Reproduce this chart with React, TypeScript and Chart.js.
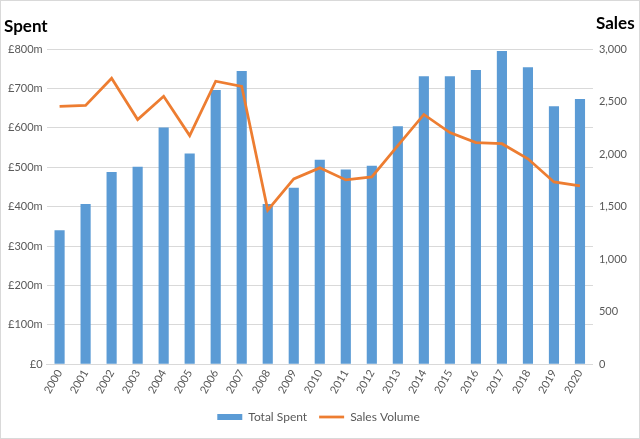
import React, { useEffect, useRef } from "react";
import { Chart, registerables } from "chart.js";

Chart.register(...registerables);

const years = ["2000","2001","2002","2003","2004","2005","2006","2007","2008","2009","2010","2011","2012","2013","2014","2015","2016","2017","2018","2019","2020"];
const totalSpent = [340, 407, 488, 501, 601, 535, 696, 744, 407, 448, 519, 494, 504, 604, 731, 731, 747, 795, 754, 655, 673];
const salesVolume = [2454, 2463, 2722, 2329, 2550, 2176, 2693, 2645, 1467, 1764, 1869, 1754, 1783, 2080, 2377, 2205, 2109, 2099, 1955, 1735, 1697];
const leftTitle = "Spent";
const rightTitle = "Sales";

const FONT = "Lato, 'Open Sans', sans-serif";

const titlePlugin = {
  id: "axisTitles",
  afterDraw(chart: any) {
    const ctx = chart.ctx;
    ctx.save();
    ctx.font = `bold 17px ${FONT}`;
    ctx.fillStyle = "#000";
    ctx.textBaseline = "middle";
    ctx.textAlign = "left";
    ctx.fillText(leftTitle, 3, 26);
    ctx.fillText(rightTitle, chart.scales.y1.left + 3, 23);
    ctx.restore();
  },
};

export default function App() {
  const ref = useRef<HTMLCanvasElement>(null);
  useEffect(() => {
    if (!ref.current) return;
    const chart = new Chart(ref.current, {
      type: "bar",
      data: {
        labels: years,
        datasets: [
          {
            type: "line",
            label: "Sales Volume",
            data: salesVolume,
            borderColor: "#ED7D31",
            backgroundColor: "#ED7D31",
            borderWidth: 2.75,
            pointRadius: 0,
            pointStyle: "line",
            tension: 0,
            yAxisID: "y1",
            order: 1,
          } as any,
          {
            type: "bar",
            label: "Total Spent",
            data: totalSpent,
            backgroundColor: "#5B9BD5",
            borderColor: "#5B9BD5",
            borderWidth: 0,
            pointStyle: "rect",
            categoryPercentage: 1,
            barPercentage: 0.39,
            yAxisID: "y",
            order: 2,
          } as any,
        ],
      },
      options: {
        animation: false,
        responsive: true,
        maintainAspectRatio: false,
        layout: { padding: { top: 48, left: 3, right: 6, bottom: 5 } },
        plugins: {
          tooltip: { enabled: false },
          legend: {
            position: "bottom",
            reverse: true,
            labels: {
              usePointStyle: true,
              pointStyleWidth: 25,
              boxHeight: 6,
              color: "#595959",
              font: { family: FONT, size: 12 },
              padding: 12,
            },
          },
        },
        scales: {
          x: {
            grid: { display: false, drawTicks: false },
            border: { color: "#d9d9d9" },
            ticks: {
              color: "#595959",
              font: { family: FONT, size: 11 },
              padding: 3,
              minRotation: 60,
              maxRotation: 60,
            },
          },
          y: {
            position: "left",
            min: 0,
            max: 800,
            border: { display: false },
            grid: { color: "#d9d9d9", drawTicks: false },
            ticks: {
              stepSize: 100,
              padding: 4,
              color: "#595959",
              font: { family: FONT, size: 11 },
              callback: (v: any) => (v === 0 ? "£0" : `£${v}m`),
            },
          },
          y1: {
            position: "right",
            min: 0,
            max: 3000,
            border: { display: false },
            grid: { display: false, drawTicks: false },
            ticks: {
              stepSize: 500,
              padding: 6,
              color: "#595959",
              font: { family: FONT, size: 11 },
              callback: (v: any) => Number(v).toLocaleString("en-US"),
            },
          },
        },
      },
      plugins: [titlePlugin],
    });
    return () => chart.destroy();
  }, []);
  return (
    <div
      style={{
        position: "absolute",
        left: 0,
        top: 0,
        width: 640,
        height: 439,
        border: "1px solid #d9d9d9",
        boxSizing: "border-box",
        background: "#fff",
      }}
    >
      <canvas ref={ref} />
    </div>
  );
}
